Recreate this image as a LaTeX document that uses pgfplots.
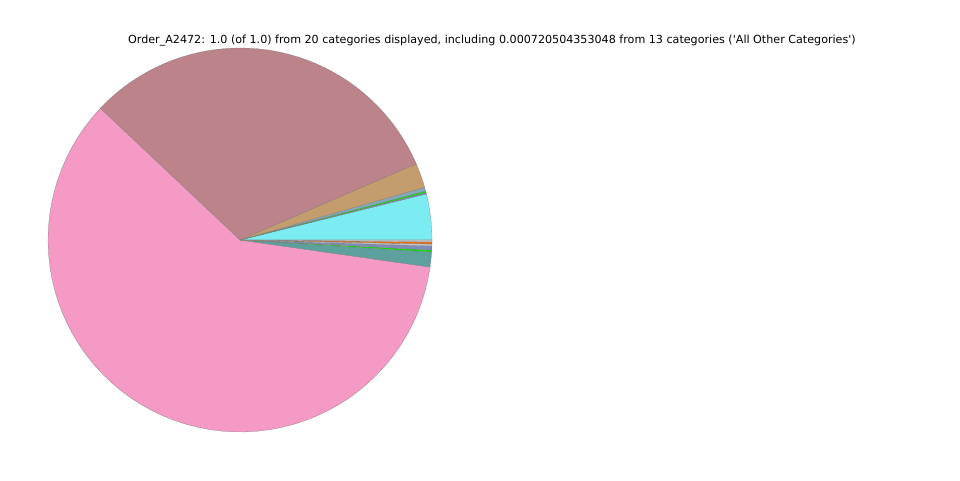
\documentclass[border=0pt]{standalone}
\usepackage{fontspec}
\setmainfont{DejaVu Sans}
\usepackage{pgfplots}
\pgfplotsset{compat=1.18}

\definecolor{cPink}{RGB}{244,154,196}
\definecolor{cMauve}{RGB}{188,131,138}
\definecolor{cTan}{RGB}{196,156,109}
\definecolor{cCyan}{RGB}{122,236,242}
\definecolor{cTeal}{RGB}{94,160,158}
\definecolor{cLime}{RGB}{20,220,20}
\definecolor{cOrange}{RGB}{232,110,20}
\definecolor{cSlate}{RGB}{125,140,185}
\definecolor{cLGray}{RGB}{195,195,195}
\definecolor{cSteel}{RGB}{130,170,190}
\definecolor{edge}{RGB}{120,120,120}

% one wedge: start angle, end angle (degrees, counter-clockwise from 3 o'clock), colour
\newcommand{\slice}[3]{%
  \addplot[fill=#3, draw=edge, line width=0.15pt, domain=#1:#2, samples=60, variable=\t]
    ({cos(\t)},{sin(\t)}) -- (axis cs:0,0) -- cycle;}

\begin{document}
\begin{tikzpicture}
\begin{axis}[
    scale only axis, width=720pt, height=360pt,
    xmin=-1.25, xmax=3.75, ymin=-1.25, ymax=1.25,
    hide axis, clip=false,
]
\addplot[draw=none] coordinates {(-1.25,-1.25) (3.75,1.25)};

\slice{0}{13.9}{cCyan}
\slice{13.9}{14.3}{cSlate}
\slice{14.3}{14.8}{cLime}
\slice{14.8}{15.9}{cSteel}
\slice{15.9}{23.4}{cTan}
\slice{23.4}{136.7}{cMauve}
\slice{136.7}{351.9}{cPink}
\slice{351.9}{356.4}{cTeal}
\slice{356.4}{357.0}{cLime}
\slice{357.0}{358.2}{cSlate}
\slice{358.2}{358.8}{cLGray}
\slice{358.8}{359.4}{cOrange}
\slice{359.4}{360}{cLGray}

\node[font=\fontsize{8.35}{10}\selectfont] at (axis cs:1.3125,1.037)
  {Order\_A2472: 1.0 (of 1.0) from 20 categories displayed, including 0.000720504353048 from 13 categories (\textquotesingle All Other Categories\textquotesingle)};
\end{axis}
\end{tikzpicture}
\end{document}
